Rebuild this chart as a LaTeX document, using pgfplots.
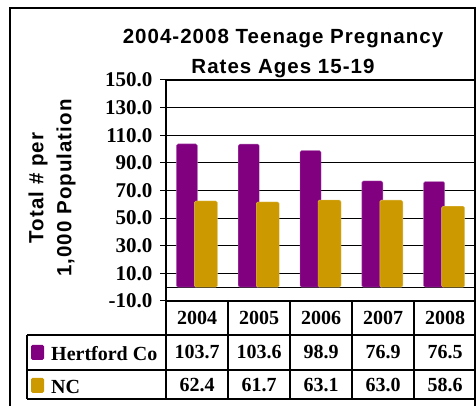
\documentclass[border=0pt]{standalone}
\usepackage{fontspec}
\setmainfont{Liberation Serif}
\newfontfamily\arial[LetterSpace=5]{Liberation Sans}
\usepackage{pgfplots}
\usepackage{pgfplotstable}
\pgfplotsset{compat=1.18}
\definecolor{hert}{RGB}{128,0,128}
\definecolor{ncgold}{RGB}{204,153,0}

\pgfplotstableread{
year hertford nc
2004 103.7 62.4
2005 103.6 61.7
2006 98.9 63.1
2007 76.9 63.0
2008 76.5 58.6
}\rates

\begin{document}
\begin{tikzpicture}[x=1pt,y=1pt]
\path[use as bounding box] (0,0) rectangle (476,406);
\draw[line width=1.6pt] (10,0) -- (10,398) -- (475,398) -- (475,0);

% title and y label
\node[font=\arial\bfseries\fontsize{20.5}{30}\selectfont, align=center] at (283,352)
  {2004-2008 Teenage Pregnancy\\Rates Ages 15-19};
\node[font=\arial\bfseries\fontsize{20.5}{28}\selectfont, align=center, rotate=90] at (52,218)
  {Total \# per\\1,000 Population};

\begin{axis}[at={(166pt,105pt)}, anchor=south west, scale only axis,
  width=309pt, height=221pt,
  xmin=-0.5, xmax=4.5, ymin=-10, ymax=150,
  xtick=\empty,
  ytick={-10,10,...,150},
  ymajorgrids, grid style={black, line width=0.9pt},
  extra y ticks={0}, extra y tick labels={},
  extra y tick style={major tick length=0pt, grid style={black, line width=0.9pt}},
  axis line style={black, line width=1.3pt},
  ytick pos=left, tick align=outside, major tick length=6pt,
  tick style={black, line width=1pt},
  /pgf/number format/assume math mode=true,
  yticklabel style={font=\bfseries\fontsize{21}{22}\selectfont, xshift=-4pt,
    /pgf/number format/.cd, fixed, fixed zerofill, precision=1},
  clip=false]
\addplot[ybar, bar width=21pt, bar shift=-10pt, fill=hert, draw=hert!60,
  rounded corners=1.5pt]
  table[x expr=\coordindex, y=hertford] {\rates};
\addplot[ybar, bar width=23pt, bar shift=9pt, fill=ncgold, draw=ncgold!60,
  rounded corners=1.5pt]
  table[x expr=\coordindex, y=nc] {\rates};
\end{axis}

% data table
\begin{scope}[line width=1.1pt]
\foreach \x in {166,228,290,352,414,475} \draw (\x,105) -- (\x,7);
\draw (27,71) -- (475,71);
\draw (27,36) -- (475,36);
\draw (27,7) -- (475,7);
\draw (27,71) -- (27,7);
\end{scope}
\begin{scope}[font=\bfseries\fontsize{20}{22}\selectfont]
\foreach \y [count=\i from 0] in {2004,2005,2006,2007,2008}
  \node at (197+62*\i,88) {\y};
\foreach \v [count=\i from 0] in {103.7,103.6,98.9,76.9,76.5}
  \node at (197+62*\i,54) {\v};
\foreach \v [count=\i from 0] in {62.4,61.7,63.1,63.0,58.6}
  \node at (197+62*\i,21) {\v};
\fill[hert, rounded corners=1.5pt] (31,46) rectangle (44,61);
\fill[ncgold, rounded corners=1.5pt] (31,13) rectangle (44,28);
\node[anchor=west, inner sep=0pt] at (51,52) {Hertford Co};
\node[anchor=west, inner sep=0pt] at (51,19) {NC};
\end{scope}
\end{tikzpicture}
\end{document}
